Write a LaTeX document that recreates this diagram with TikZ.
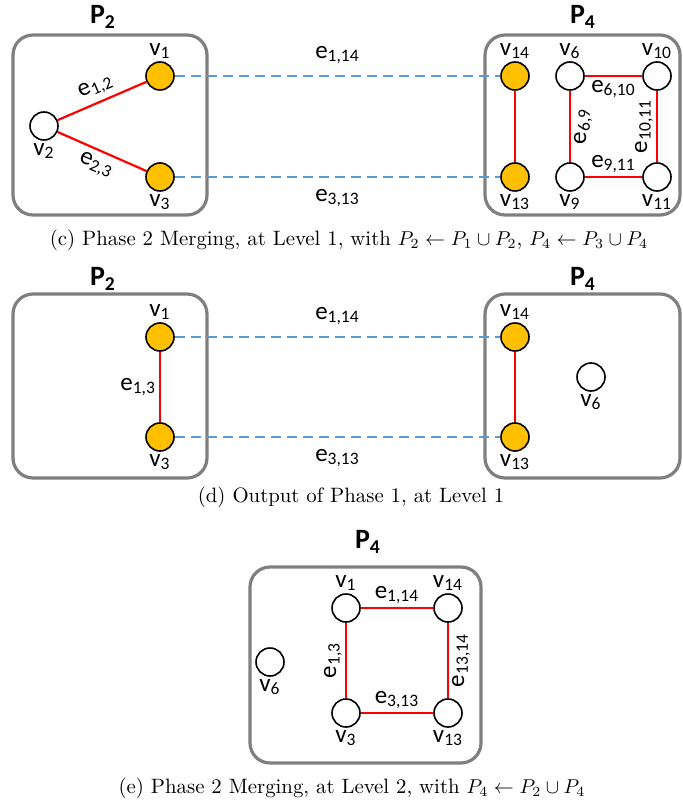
\documentclass[tikz,border=0pt]{standalone}
\usepackage{fontspec}
\newfontfamily\lblfont{Carlito}
\usepackage{tikz}
\usetikzlibrary{positioning}

\definecolor{gold}{HTML}{FFC000}
\definecolor{cutblue}{HTML}{5B9BD5}
\definecolor{boxgray}{HTML}{7F7F7F}

\tikzset{
  vtx/.style={circle,draw,line width=0.8pt,fill=white,minimum size=14pt,inner sep=0pt},
  hot/.style={vtx,fill=gold},
  part/.style={draw=boxgray,line width=1.6pt,rounded corners=10pt},
  link/.style={draw=red,line width=1.1pt},
  cut/.style={draw=cutblue,line width=1.1pt,dash pattern=on 5pt off 3pt},
  elab/.style={font=\lblfont\fontsize{12.5}{12.5}\selectfont,inner sep=1.5pt},
  ttl/.style={font=\lblfont\fontsize{14}{14}\selectfont\bfseries},
  captxt/.style={font=\fontsize{10.4}{12}\selectfont},
  every label/.style={font=\lblfont\fontsize{12.5}{12.5}\selectfont,inner sep=1pt},
}

\begin{document}
\begin{tikzpicture}[x=0.5pt,y=-0.5pt]
\useasboundingbox (0,0) rectangle (682,806);

% (c) merging at level 1
\node[ttl] (c-p2) at (103,17) {P\textsubscript{2}};
\node[ttl] (c-p4) at (583,17) {P\textsubscript{4}};
\draw[part] (13,35) rectangle (207,215);
\draw[part] (485,35) rectangle (680,215);

\node[hot,label=above:v\textsubscript{1}] (c1) at (160,76) {};
\node[vtx,label=below:v\textsubscript{2}] (c2) at (44,126) {};
\node[hot,label=below:v\textsubscript{3}] (c3) at (160,177) {};
\node[hot,label=above:v\textsubscript{14}] (c14) at (515,76) {};
\node[hot,label=below:v\textsubscript{13}] (c13) at (515,177) {};
\node[vtx,label=above:v\textsubscript{6}] (c6) at (570,76) {};
\node[vtx,label=above:v\textsubscript{10}] (c10) at (657,76) {};
\node[vtx,label=below:v\textsubscript{9}] (c9) at (570,177) {};
\node[vtx,label=below:v\textsubscript{11}] (c11) at (657,177) {};

\draw[link] (c2) -- (c1) node[midway,above=1pt,sloped,elab] {e\textsubscript{1,2}};
\draw[link] (c2) -- (c3) node[midway,below=1pt,sloped,elab] {e\textsubscript{2,3}};
\draw[link] (c14) -- (c13);
\draw[link] (c6) -- (c10) node[midway,below,elab] {e\textsubscript{6,10}};
\draw[link] (c9) -- (c6) node[midway,below,sloped,elab] {e\textsubscript{6,9}};
\draw[link] (c11) -- (c10) node[midway,above,sloped,elab] {e\textsubscript{10,11}};
\draw[link] (c9) -- (c11) node[midway,above,elab] {e\textsubscript{9,11}};

\draw[cut] (c1) -- (c14) node[midway,above=4pt,elab] {e\textsubscript{1,14}};
\draw[cut] (c3) -- (c13) node[midway,below=4pt,elab] {e\textsubscript{3,13}};

\node[captxt] (c-cap) at (349,240) {(c) Phase 2 Merging, at Level 1, with $P_2 \leftarrow P_1 \cup P_2$, $P_4 \leftarrow P_3 \cup P_4$};

% (d) output of phase 1
\node[ttl] (d-p2) at (103,279) {P\textsubscript{2}};
\node[ttl] (d-p4) at (583,279) {P\textsubscript{4}};
\draw[part] (13,294) rectangle (207,478);
\draw[part] (485,294) rectangle (680,478);

\node[hot,label=above:v\textsubscript{1}] (d1) at (160,337) {};
\node[hot,label=below:v\textsubscript{3}] (d3) at (160,437) {};
\node[hot,label=above:v\textsubscript{14}] (d14) at (515,337) {};
\node[hot,label=below:v\textsubscript{13}] (d13) at (515,437) {};
\node[vtx,label=below:v\textsubscript{6}] (d6) at (591,377) {};

\draw[link] (d1) -- (d3) node[midway,left,elab] {e\textsubscript{1,3}};
\draw[link] (d14) -- (d13);
\draw[cut] (d1) -- (d14) node[midway,above=4pt,elab] {e\textsubscript{1,14}};
\draw[cut] (d3) -- (d13) node[midway,below=4pt,elab] {e\textsubscript{3,13}};

\node[captxt] (d-cap) at (351,497) {(d) Output of Phase 1, at Level 1};

% (e) merging at level 2
\node[ttl] (e-p4) at (368,542) {P\textsubscript{4}};
\draw[part] (250,567) rectangle (481,763);

\node[vtx,label=above:v\textsubscript{1}] (e1) at (346,608) {};
\node[vtx,label=above:v\textsubscript{14}] (e14) at (448,608) {};
\node[vtx,label=below:v\textsubscript{3}] (e3) at (346,713) {};
\node[vtx,label=below:v\textsubscript{13}] (e13) at (448,713) {};
\node[vtx,label=below:v\textsubscript{6}] (e6) at (270,662) {};

\draw[link] (e1) -- (e14) node[midway,above,elab] {e\textsubscript{1,14}};
\draw[link] (e3) -- (e1) node[midway,above,sloped,elab] {e\textsubscript{1,3}};
\draw[link] (e13) -- (e14) node[midway,below,sloped,elab] {e\textsubscript{13,14}};
\draw[link] (e3) -- (e13) node[midway,above,elab] {e\textsubscript{3,13}};

\node[captxt] (e-cap) at (352,788) {(e) Phase 2 Merging, at Level 2, with $P_4 \leftarrow P_2 \cup P_4$};

\end{tikzpicture}
\end{document}
